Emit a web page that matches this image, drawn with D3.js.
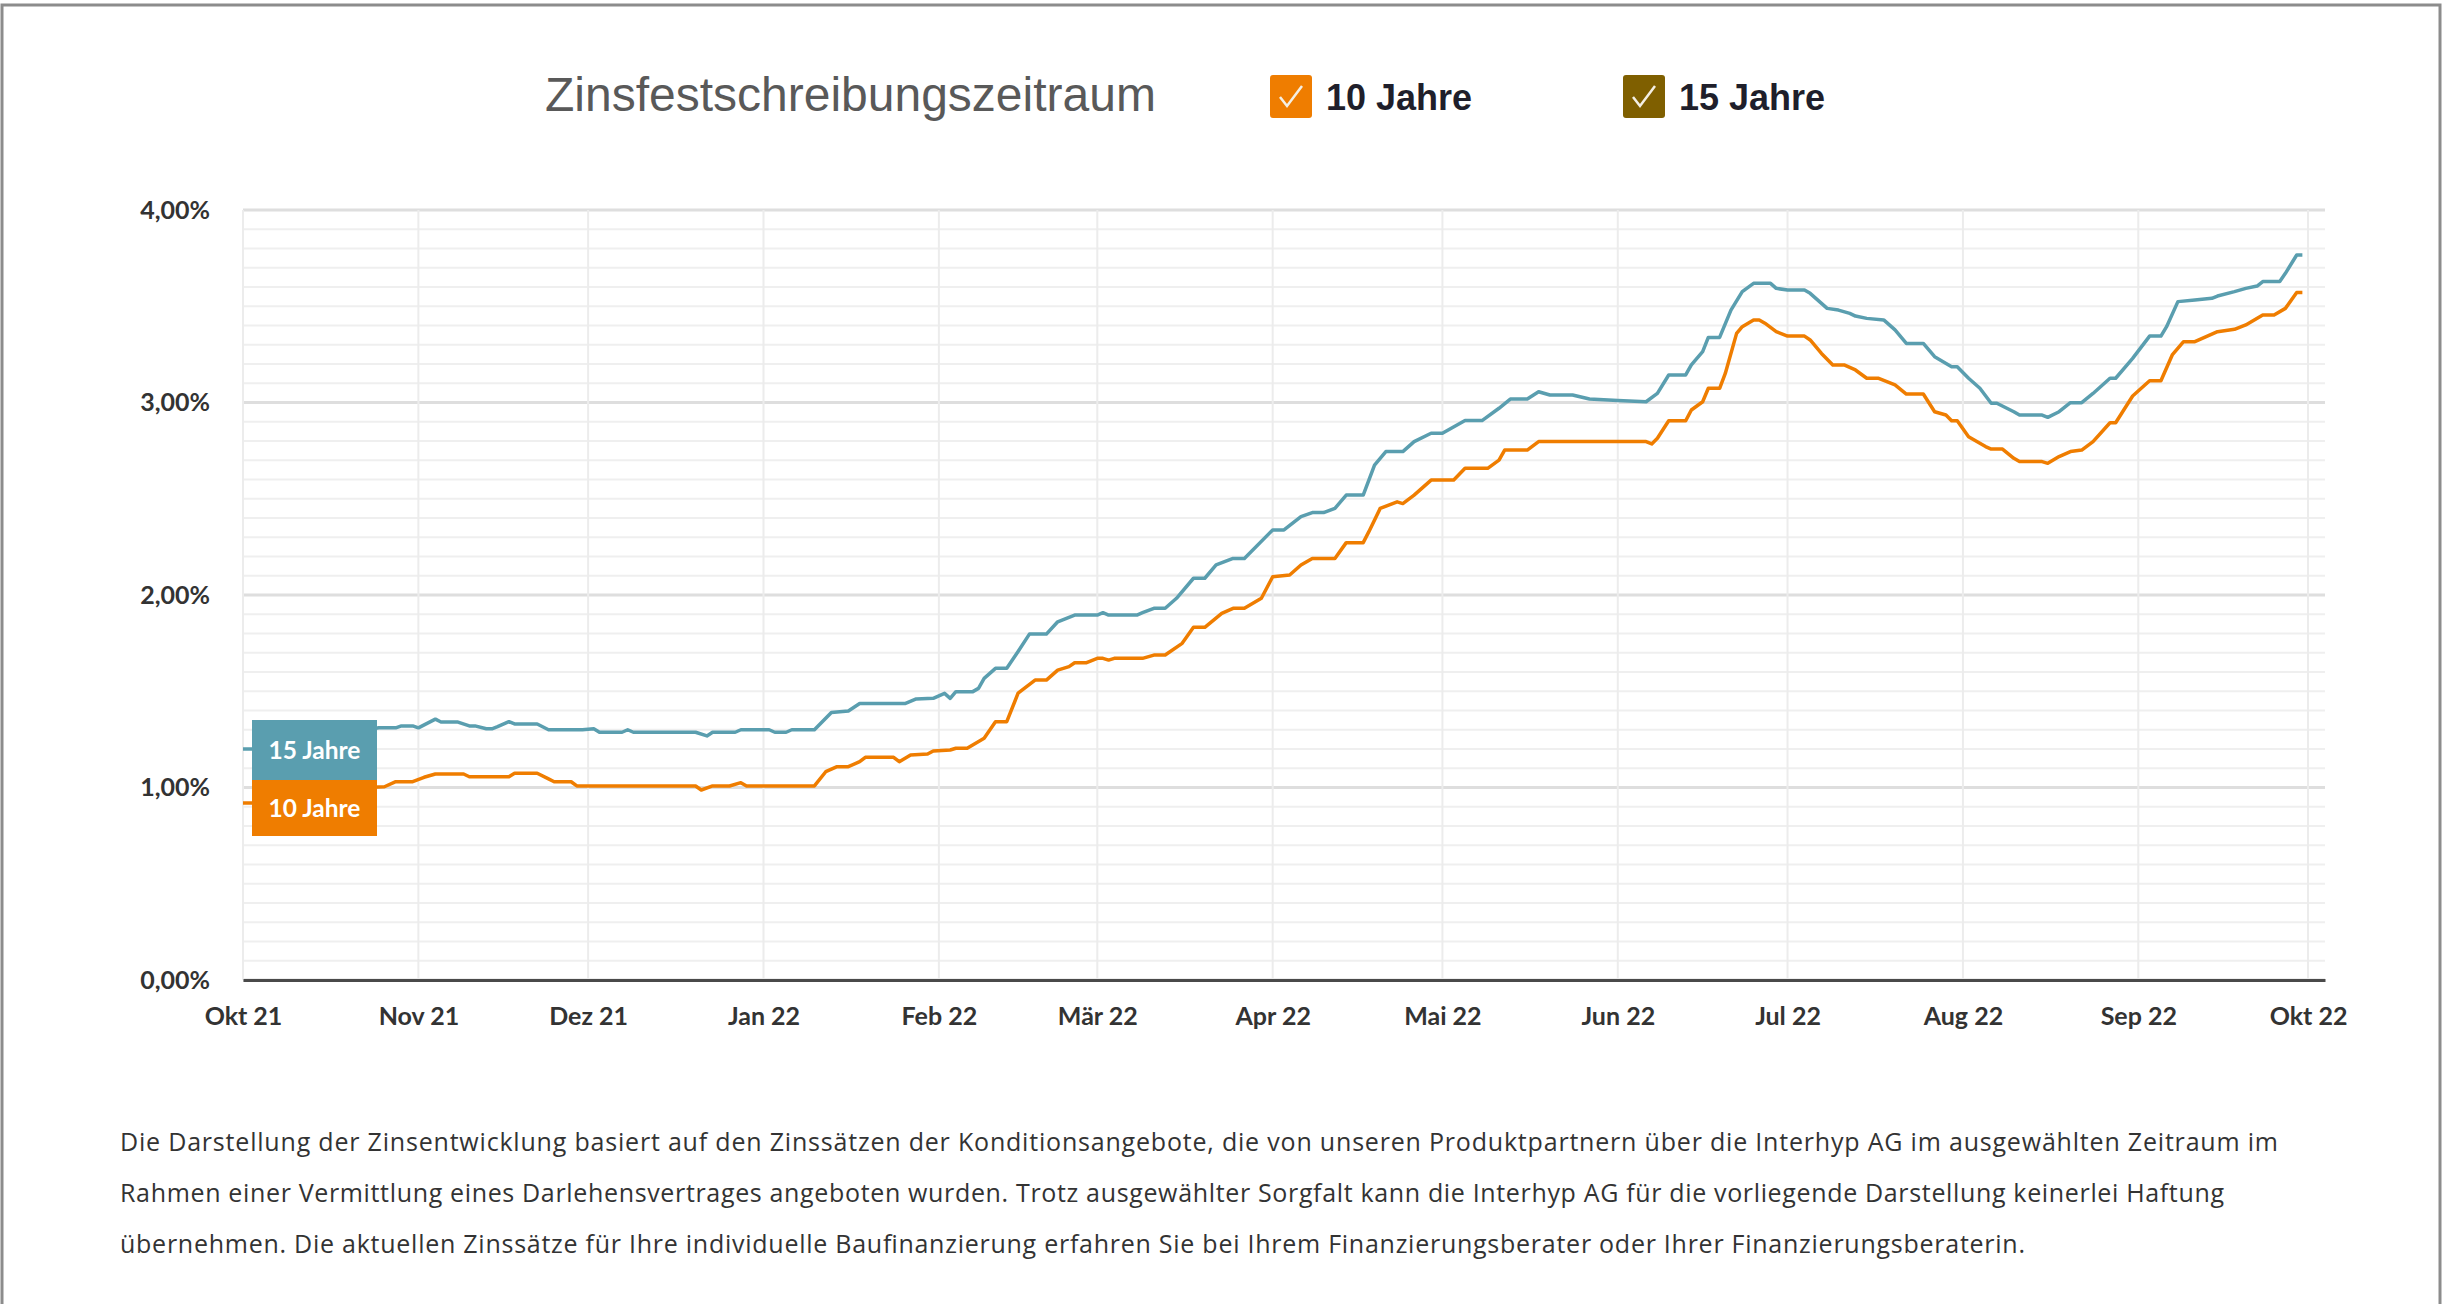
<!DOCTYPE html>
<html>
<head>
<meta charset="utf-8">
<script src="https://cdnjs.cloudflare.com/ajax/libs/d3/7.8.5/d3.min.js"></script>
<style>
body { margin: 0; background: #fff; }
.axis text { font-family: Lato, sans-serif; font-weight: 700; font-size: 25px; fill: #333; }
</style>
</head>
<body>
<svg class="chart"></svg>
<script>
// values (Zinsentwicklung Okt 21 - Okt 22)
var seriesNames = ["10 Jahre", "15 Jahre"];

var dates15 = ["2021-10-01","2021-10-04","2021-10-13","2021-10-23","2021-10-25","2021-10-28","2021-10-29","2021-10-31",
  "2021-11-01","2021-11-04","2021-11-05","2021-11-08","2021-11-10","2021-11-11","2021-11-13","2021-11-14","2021-11-15",
  "2021-11-17","2021-11-18","2021-11-22","2021-11-24","2021-11-30","2021-12-02","2021-12-03","2021-12-07","2021-12-08",
  "2021-12-09","2021-12-20","2021-12-22","2021-12-23","2021-12-27","2021-12-28","2022-01-02","2022-01-03","2022-01-05",
  "2022-01-06","2022-01-10","2022-01-13","2022-01-16","2022-01-18","2022-01-26","2022-01-28","2022-01-31","2022-02-02",
  "2022-02-03","2022-02-04","2022-02-07","2022-02-08","2022-02-09","2022-02-11","2022-02-13","2022-02-15","2022-02-17",
  "2022-02-20","2022-02-22","2022-02-25","2022-03-01","2022-03-02","2022-03-03","2022-03-08","2022-03-09","2022-03-11",
  "2022-03-13","2022-03-15","2022-03-18","2022-03-20","2022-03-22","2022-03-25","2022-03-27","2022-04-01","2022-04-03",
  "2022-04-06","2022-04-08","2022-04-10","2022-04-12","2022-04-14","2022-04-17","2022-04-19","2022-04-21","2022-04-24",
  "2022-04-26","2022-04-29","2022-05-01","2022-05-05","2022-05-08","2022-05-11","2022-05-13","2022-05-16","2022-05-18",
  "2022-05-20","2022-05-24","2022-05-27","2022-06-01","2022-06-06","2022-06-08","2022-06-10","2022-06-13","2022-06-14",
  "2022-06-16","2022-06-17","2022-06-19","2022-06-21","2022-06-23","2022-06-25","2022-06-28","2022-06-29","2022-07-01",
  "2022-07-04","2022-07-05","2022-07-08","2022-07-10","2022-07-12","2022-07-13","2022-07-15","2022-07-18","2022-07-20",
  "2022-07-22","2022-07-25","2022-07-27","2022-07-30","2022-07-31","2022-08-02","2022-08-04","2022-08-06","2022-08-07",
  "2022-08-10","2022-08-11","2022-08-15","2022-08-16","2022-08-18","2022-08-20","2022-08-22","2022-08-24","2022-08-27",
  "2022-08-28","2022-08-31","2022-09-03","2022-09-05","2022-09-06","2022-09-08","2022-09-11","2022-09-14","2022-09-15",
  "2022-09-18","2022-09-20","2022-09-22","2022-09-23","2022-09-26","2022-09-27","2022-09-29","2022-09-30"];
var rate15 = [1.20,1.20,1.26,1.30,1.31,1.31,1.32,1.32,
  1.31,1.355,1.34,1.34,1.32,1.32,1.305,1.305,1.316,
  1.342,1.33,1.33,1.30,1.30,1.305,1.287,1.287,1.30,
  1.287,1.287,1.268,1.287,1.287,1.30,1.30,1.287,1.287,
  1.30,1.30,1.39,1.397,1.436,1.436,1.46,1.463,1.489,
  1.463,1.498,1.498,1.515,1.567,1.619,1.619,1.706,1.797,
  1.797,1.861,1.896,1.896,1.908,1.896,1.896,1.908,1.931,
  1.931,1.983,2.087,2.087,2.156,2.19,2.19,2.338,2.338,
  2.407,2.428,2.428,2.45,2.519,2.519,2.675,2.745,2.745,
  2.797,2.84,2.84,2.906,2.906,2.97,3.018,3.018,3.056,
  3.039,3.039,3.018,3.01,3.004,3.047,3.143,3.143,3.195,
  3.264,3.338,3.338,3.48,3.576,3.619,3.619,3.593,3.584,
  3.584,3.567,3.489,3.48,3.463,3.449,3.437,3.429,3.377,
  3.307,3.307,3.238,3.186,3.186,3.126,3.074,2.996,2.996,
  2.952,2.935,2.935,2.923,2.952,2.999,2.999,3.047,3.126,
  3.126,3.229,3.345,3.345,3.394,3.524,3.532,3.541,3.553,
  3.576,3.593,3.605,3.628,3.628,3.671,3.766,3.766];

var dates10 = ["2021-10-01","2021-10-04","2021-10-13","2021-10-23","2021-10-26","2021-10-28","2021-10-31","2021-11-02",
  "2021-11-04","2021-11-09","2021-11-10","2021-11-17","2021-11-18","2021-11-22","2021-11-24","2021-11-25","2021-11-28",
  "2021-11-29","2021-12-20","2021-12-21","2021-12-23","2021-12-26","2021-12-28","2021-12-29","2022-01-10","2022-01-12",
  "2022-01-14","2022-01-16","2022-01-18","2022-01-19","2022-01-24","2022-01-25","2022-01-27","2022-01-30","2022-01-31",
  "2022-02-03","2022-02-04","2022-02-06","2022-02-09","2022-02-11","2022-02-13","2022-02-15","2022-02-18","2022-02-20",
  "2022-02-22","2022-02-24","2022-02-25","2022-02-27","2022-03-01","2022-03-02","2022-03-03","2022-03-04","2022-03-09",
  "2022-03-11","2022-03-13","2022-03-16","2022-03-18","2022-03-20","2022-03-23","2022-03-25","2022-03-27","2022-03-30",
  "2022-04-01","2022-04-04","2022-04-06","2022-04-08","2022-04-12","2022-04-14","2022-04-17","2022-04-18","2022-04-20",
  "2022-04-23","2022-04-24","2022-04-26","2022-04-29","2022-05-03","2022-05-05","2022-05-09","2022-05-11","2022-05-12",
  "2022-05-16","2022-05-18","2022-06-06","2022-06-07","2022-06-08","2022-06-10","2022-06-13","2022-06-14","2022-06-16",
  "2022-06-17","2022-06-19","2022-06-20","2022-06-22","2022-06-23","2022-06-25","2022-06-26","2022-06-27","2022-06-29",
  "2022-07-01","2022-07-04","2022-07-05","2022-07-07","2022-07-09","2022-07-11","2022-07-13","2022-07-15","2022-07-17",
  "2022-07-20","2022-07-22","2022-07-25","2022-07-27","2022-07-29","2022-07-30","2022-07-31","2022-08-02","2022-08-05",
  "2022-08-06","2022-08-08","2022-08-10","2022-08-11","2022-08-15","2022-08-16","2022-08-18","2022-08-20","2022-08-22",
  "2022-08-24","2022-08-27","2022-08-28","2022-08-31","2022-09-03","2022-09-05","2022-09-07","2022-09-09","2022-09-11",
  "2022-09-13","2022-09-15","2022-09-18","2022-09-20","2022-09-23","2022-09-25","2022-09-27","2022-09-29","2022-09-30"];
var rate10 = [0.92,0.92,0.96,1.00,1.004,1.03,1.03,1.053,
  1.07,1.07,1.056,1.056,1.074,1.074,1.045,1.03,1.03,
  1.008,1.008,0.987,1.008,1.008,1.025,1.008,1.008,1.082,
  1.108,1.108,1.134,1.157,1.157,1.134,1.169,1.174,1.19,
  1.195,1.204,1.204,1.256,1.342,1.342,1.49,1.558,1.558,
  1.61,1.628,1.648,1.648,1.671,1.671,1.662,1.671,1.671,
  1.688,1.688,1.749,1.832,1.832,1.905,1.931,1.931,1.983,
  2.095,2.104,2.156,2.19,2.19,2.272,2.272,2.329,2.45,
  2.484,2.475,2.519,2.597,2.597,2.658,2.658,2.701,2.753,
  2.753,2.797,2.797,2.785,2.814,2.905,2.905,2.961,3.004,
  3.074,3.074,3.151,3.359,3.394,3.429,3.429,3.412,3.368,
  3.345,3.345,3.325,3.255,3.195,3.195,3.169,3.126,3.126,
  3.091,3.044,3.044,2.952,2.935,2.905,2.905,2.822,2.771,
  2.758,2.758,2.71,2.693,2.693,2.684,2.719,2.745,2.753,
  2.797,2.895,2.895,3.034,3.113,3.113,3.247,3.316,3.316,
  3.342,3.368,3.38,3.403,3.455,3.455,3.489,3.571,3.571];

var monthTicks = ["2021-10-01","2021-11-01","2021-12-01","2022-01-01","2022-02-01","2022-03-01","2022-04-01",
  "2022-05-01","2022-06-01","2022-07-01","2022-08-01","2022-09-01","2022-10-01"];
var monthLabels = ["Okt 21","Nov 21","Dez 21","Jan 22","Feb 22","Mär 22","Apr 22","Mai 22","Jun 22","Jul 22","Aug 22","Sep 22","Okt 22"];
var yTicks = [0, 1, 2, 3, 4];
var yTickLabels = ["0,00%","1,00%","2,00%","3,00%","4,00%"];

var noteLines = [
  "Die Darstellung der Zinsentwicklung basiert auf den Zinssätzen der Konditionsangebote, die von unseren Produktpartnern über die Interhyp AG im ausgewählten Zeitraum im",
  "Rahmen einer Vermittlung eines Darlehensvertrages angeboten wurden. Trotz ausgewählter Sorgfalt kann die Interhyp AG für die vorliegende Darstellung keinerlei Haftung",
  "übernehmen. Die aktuellen Zinssätze für Ihre individuelle Baufinanzierung erfahren Sie bei Ihrem Finanzierungsberater oder Ihrer Finanzierungsberaterin."
];

// sizes and colours
var W = 2443, H = 1304;
var plot = {left: 243, right: 2325, top: 210, bottom: 980};
var colors = {"10 Jahre": "#ef7d00", "15 Jahre": "#5a9eaf"};
var legendColors = {"10 Jahre": "#ef7d00", "15 Jahre": "#7f5f00"};

var parse = d3.timeParse("%Y-%m-%d");

var svg = d3.select(".chart")
	.attr("width", W)
	.attr("height", H);

// outer frame
svg.append("rect")
	.attr("x", 2).attr("y", 5)
	.attr("width", W - 5).attr("height", H + 20)
	.attr("fill", "none")
	.attr("stroke", "#8c8c8c")
	.attr("stroke-width", 3);

var x = d3.scaleTime()
	.domain([parse("2021-10-01"), parse("2022-10-04")])
	.range([plot.left, plot.right]);
var y = d3.scaleLinear()
	.domain([0, 4])
	.range([plot.bottom, plot.top]);

// title and legend
svg.append("text")
	.attr("x", 545).attr("y", 111)
	.style("font-family", "'Liberation Sans', Arial, sans-serif")
	.style("font-size", "48px")
	.style("fill", "#595959")
	.text("Zinsfestschreibungszeitraum");

var legend = svg.selectAll(".legend")
	.data(seriesNames)
  .enter().append("g")
	.attr("class", "legend")
	.attr("transform", function(d, i) { return "translate(" + (1270 + i * 353) + ",75)"; });
legend.append("rect")
	.attr("width", 42).attr("height", 43)
	.attr("rx", 3)
	.attr("fill", function(d) { return legendColors[d]; });
legend.append("path")
	.attr("d", "M10,22 L17,31 L32,11")
	.attr("fill", "none")
	.attr("stroke", "#f4efe4")
	.attr("stroke-width", 2.5);
legend.append("text")
	.attr("x", 56).attr("y", 35)
	.style("font-family", "'Liberation Sans', Arial, sans-serif")
	.style("font-weight", "700")
	.style("font-size", "36px")
	.style("fill", "#1f1f2b")
	.text(function(d) { return d; });

// grid lines
var grid = svg.append("g");
grid.selectAll(".minor")
	.data(y.ticks(40))
  .enter().append("line")
	.attr("x1", plot.left).attr("x2", plot.right)
	.attr("y1", function(d) { return y(d); })
	.attr("y2", function(d) { return y(d); })
	.attr("stroke", function(d) { return Math.abs(d - Math.round(d)) < 1e-6 ? "#dedede" : "#efefef"; })
	.attr("stroke-width", function(d) { return Math.abs(d - Math.round(d)) < 1e-6 ? 3 : 2; });
grid.selectAll(".vline")
	.data(monthTicks)
  .enter().append("line")
	.attr("x1", function(d) { return x(parse(d)); })
	.attr("x2", function(d) { return x(parse(d)); })
	.attr("y1", plot.top).attr("y2", plot.bottom)
	.attr("stroke", "#ececec")
	.attr("stroke-width", 2);

// series lines
var series = [
	{name: "10 Jahre", values: dates10.map(function(d, i) { return {date: parse(d), value: rate10[i]}; })},
	{name: "15 Jahre", values: dates15.map(function(d, i) { return {date: parse(d), value: rate15[i]}; })}
];
var line = d3.line()
	.x(function(d) { return x(d.date); })
	.y(function(d) { return y(d.value); });

svg.selectAll(".series")
	.data(series)
  .enter().append("path")
	.attr("class", "series")
	.attr("d", function(d) { return line(d.values); })
	.attr("fill", "none")
	.attr("stroke", function(d) { return colors[d.name]; })
	.attr("stroke-width", 3.5)
	.attr("stroke-linejoin", "round");

// start labels, 15 Jahre on top, 10 Jahre stacked below it
var boxTop15 = y(rate15[0]) - 29;
var boxes = [
	{name: "15 Jahre", top: boxTop15, h: 60},
	{name: "10 Jahre", top: boxTop15 + 60, h: 56}
];
var tag = svg.selectAll(".tag")
	.data(boxes)
  .enter().append("g")
	.attr("class", "tag")
	.attr("transform", function(d) { return "translate(252," + d.top + ")"; });
tag.append("rect")
	.attr("width", 125)
	.attr("height", function(d) { return d.h; })
	.attr("fill", function(d) { return colors[d.name]; });
tag.append("text")
	.attr("x", 62.5)
	.attr("y", function(d) { return d.h / 2; })
	.attr("dy", "0.35em")
	.style("text-anchor", "middle")
	.style("font-family", "Lato, sans-serif")
	.style("font-weight", "700")
	.style("font-size", "24.5px")
	.style("fill", "#fff")
	.text(function(d) { return d.name; });

// x axis
var xAxis = svg.append("g")
	.attr("class", "x axis")
	.attr("transform", "translate(0," + plot.bottom + ")")
	.call(d3.axisBottom(x)
		.tickValues(monthTicks.map(parse))
		.tickFormat(function(d, i) { return monthLabels[i]; })
		.tickSize(0)
		.tickPadding(27));
xAxis.select(".domain")
	.attr("stroke", "#4a4a4a")
	.attr("stroke-width", 3);

// y axis
var yAxis = svg.append("g")
	.attr("class", "y axis")
	.attr("transform", "translate(" + plot.left + ",0)")
	.call(d3.axisLeft(y)
		.tickValues(yTicks)
		.tickFormat(function(d, i) { return yTickLabels[i]; })
		.tickSize(0)
		.tickPadding(33));
yAxis.select(".domain").remove();

// footnote
svg.selectAll(".note")
	.data(noteLines)
  .enter().append("text")
	.attr("class", "note")
	.attr("x", 120)
	.attr("y", function(d, i) { return 1151 + i * 51; })
	.attr("textLength", function(d, i) { return [2158, 2104, 1905][i]; })
	.style("font-family", "'Open Sans', sans-serif")
	.style("font-size", "25px")
	.style("fill", "#333")
	.text(function(d) { return d; });
</script>
</body>
</html>
